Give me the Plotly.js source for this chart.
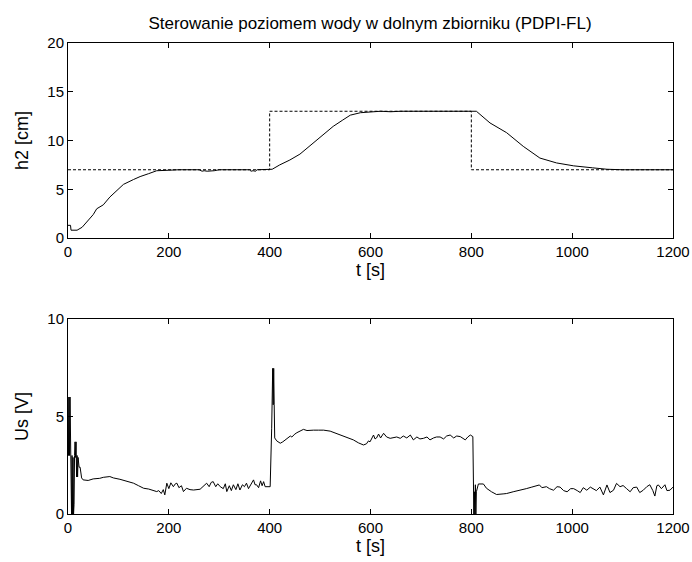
<!DOCTYPE html>
<html><head><meta charset="utf-8">
<script src="https://cdn.plot.ly/plotly-3.0.1.min.js"></script>
<style>html,body{margin:0;padding:0;background:#fff}#c{width:692px;height:562px}</style>
</head><body><div id="c"></div>
<script>
const titleText = "Sterowanie poziomem wody w dolnym zbiorniku (PDPI-FL)";
const xTicks = [0,200,400,600,800,1000,1200];
const yTicksTop = [0,5,10,15,20];
const yTicksBottom = [0,5,10];

const tRef = [0,400,400,800,800,1200];
const hRef = [7,7,13,13,7,7];

const tH = [0,5,6,18,28,40,50,57,70,83,100,110,130,143,160,176,200,220,260,266,270,276,290,300,360,363,367,372,375,405,420,440,460,487,510,526,545,560,580,600,620,640,660,800,810,837,870,903,936,969,1003,1040,1069,1100,1200];
const h2 = [1.3,1.3,0.8,0.8,1.1,1.8,2.4,3.0,3.4,4.2,5.0,5.5,6.0,6.3,6.6,6.9,6.95,7.0,7.0,6.85,6.9,6.85,6.9,7.0,7.0,6.85,6.9,6.85,7.0,7.05,7.5,8.0,8.6,9.75,10.8,11.45,12.1,12.6,12.85,12.95,13.0,12.95,13.0,13.0,13.0,11.8,10.8,9.4,8.2,7.7,7.4,7.2,7.05,7.0,7.0];

const tU = [0,1,2,3,4,5,6,7,8,9,10,11,12,13,14,15,16,17,18,19,20,22,24,27,30,40,50,63,70,83,90,103,115,130,140,150,160,170,176,180,185,189,192,196,200,204,209,213,216,220,225,229,235,242,249,262,270,275,280,284,288,293,297,302,308,312,315,320,324,328,333,337,341,346,350,354,358,362,368,371,374,378,382,385,388,391,394,401,404,405,406,407,408,409,410,414,421,426,431,436,441,444,447,450,454,460,467,474,480,487,497,507,520,530,540,553,566,576,586,592,596,599,603,606,609,612,616,620,626,632,639,645,652,659,665,672,679,685,692,698,705,712,718,725,731,738,745,751,758,765,771,778,783,788,793,798,803,804,805,806,807,808,809,810,814,824,830,840,850,863,870,883,895,909,920,929,935,940,949,955,963,970,976,983,990,997,1003,1010,1016,1022,1029,1036,1042,1048,1055,1062,1069,1075,1082,1088,1095,1101,1108,1115,1121,1128,1134,1141,1148,1154,1160,1164,1168,1171,1177,1184,1188,1194,1200];
const us = [6,3,6,3,6,3,3,0,3,0,2.9,0,0.5,3,3.7,2.9,3.7,1.9,3.0,1.9,2.9,2.4,2.4,1.85,1.75,1.72,1.8,1.83,1.88,1.92,1.85,1.78,1.7,1.58,1.45,1.32,1.28,1.2,1.15,1.2,1.05,1.25,0.98,1.58,1.3,1.6,1.4,1.55,1.58,1.35,1.45,1.15,1.32,1.25,1.23,1.27,1.45,1.58,1.4,1.62,1.66,1.4,1.55,1.4,1.3,1.55,1.15,1.45,1.2,1.5,1.25,1.55,1.23,1.5,1.4,1.58,1.3,1.5,1.75,1.5,1.5,1.35,1.7,1.45,1.66,1.4,1.4,1.4,4.4,5.6,7.47,5.6,7.47,5.6,3.9,3.75,3.63,3.7,3.8,3.9,4.0,3.95,4.05,4.1,4.17,4.25,4.34,4.28,4.3,4.3,4.3,4.3,4.25,4.15,4.05,3.9,3.8,3.65,3.54,3.6,3.75,3.7,3.95,4.05,3.85,3.9,4.1,3.9,4.14,3.95,3.88,3.9,3.95,3.88,4.0,3.9,4.05,3.8,3.95,3.85,3.88,3.95,3.8,3.9,3.95,3.95,3.85,4.0,4.05,3.9,4.0,3.97,3.9,3.8,3.95,4.05,3.97,1.9,0,1.14,0,1.5,0,1.14,1.54,1.54,1.32,1.14,1.0,1.03,1.05,1.14,1.2,1.3,1.38,1.44,1.49,1.35,1.4,1.3,1.22,1.4,1.38,1.2,1.14,1.3,1.3,1.2,1.1,1.35,1.22,1.38,1.3,1.2,1.38,0.98,1.49,1.1,1.22,1.57,1.4,1.46,1.3,1.14,1.35,1.38,1.1,1.22,1.4,1.5,1.2,0.92,1.45,1.49,1.3,1.5,1.2,1.22,1.38];

const FONT = {family: "Liberation Sans, Arial, sans-serif", size: 15, color: "#000"};
const LFONT = {family: "Liberation Sans, Arial, sans-serif", size: 18, color: "#000"};
const axBase = {
  showgrid: false, zeroline: false, showline: true, linecolor: "#000", linewidth: 1,
  mirror: "ticks", ticks: "inside", ticklen: 5, tickcolor: "#000", tickwidth: 1,
  tickfont: FONT, automargin: false, fixedrange: true
};
const W = 692, H = 562;
const xDom = [68/W, 673/W];

const traces = [
  {x: tRef, y: hRef, mode: "lines", line: {color: "#000", width: 1, dash: "3px,2px"}, xaxis: "x", yaxis: "y", hoverinfo: "skip"},
  {x: tH, y: h2, mode: "lines", line: {color: "#000", width: 1}, xaxis: "x", yaxis: "y", hoverinfo: "skip"},
  {x: tU, y: us, mode: "lines", line: {color: "#000", width: 1}, xaxis: "x2", yaxis: "y2", hoverinfo: "skip"}
];

const layout = {
  width: W, height: H, showlegend: false,
  paper_bgcolor: "#fff", plot_bgcolor: "#fff",
  margin: {l: 0, r: 0, t: 0, b: 0},
  font: FONT,
  title: {text: titleText, font: {family: FONT.family, size: 17, color: "#000"}, x: 370/W, xanchor: "center", y: 1 - 23/H, yanchor: "middle", xref: "paper", yref: "paper"},
  xaxis: Object.assign({}, axBase, {domain: xDom, range: [0,1200], tickvals: xTicks, anchor: "y",
    title: {text: "t [s]", font: LFONT, standoff: 4}}),
  yaxis: Object.assign({}, axBase, {domain: [1-238/H, 1-43/H], range: [0,20], tickvals: yTicksTop, anchor: "x",
    title: {text: "h2 [cm]", font: LFONT, standoff: 14}}),
  xaxis2: Object.assign({}, axBase, {domain: xDom, range: [0,1200], tickvals: xTicks, anchor: "y2",
    title: {text: "t [s]", font: LFONT, standoff: 4}}),
  yaxis2: Object.assign({}, axBase, {domain: [1-514/H, 1-319/H], range: [0,10], tickvals: yTicksBottom, anchor: "x2",
    title: {text: "Us [V]", font: LFONT, standoff: 14}})
};

Plotly.newPlot("c", traces, layout, {displayModeBar: false, staticPlot: true});
</script>
</body></html>
